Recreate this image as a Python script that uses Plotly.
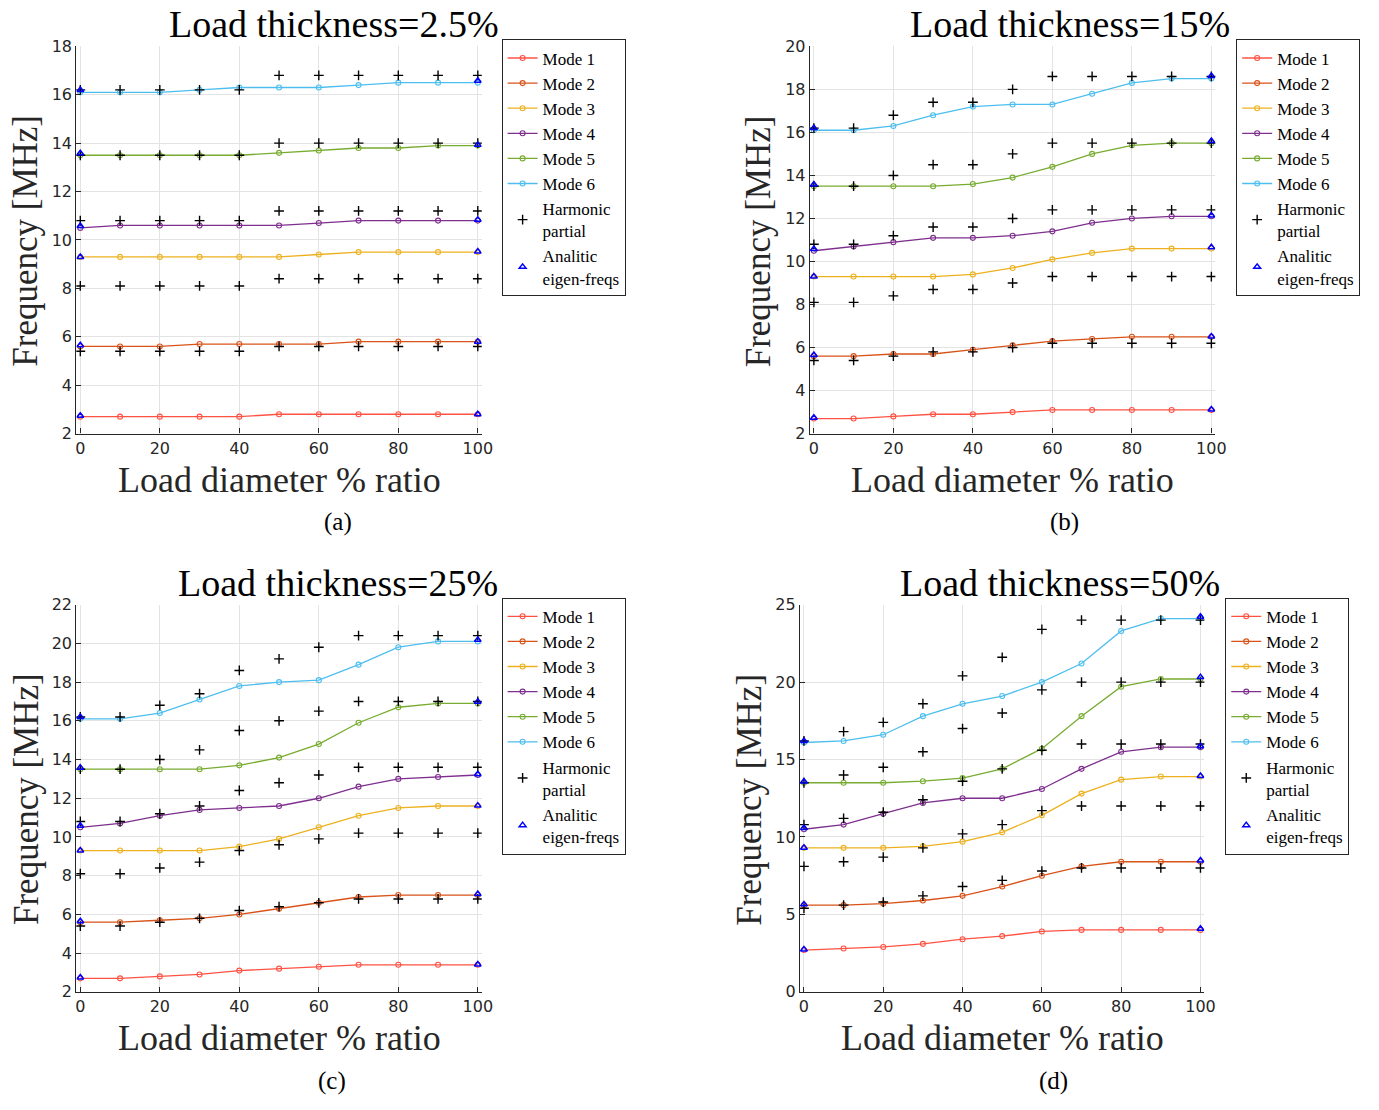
import plotly.graph_objects as go

# ---------------------------------------------------------------- data
diam = [0, 10, 20, 30, 40, 50, 60, 70, 80, 90, 100]
diam_ends = [0, 100]

mode_names = ["Mode 1", "Mode 2", "Mode 3", "Mode 4", "Mode 5", "Mode 6"]
mode_colors = ["#FF5243", "#D95319", "#EDB120", "#7E2F8E", "#77AC30", "#4DBEEE"]

# Load thickness = 2.5 %
modes_a = [
    [2.7, 2.7, 2.7, 2.7, 2.7, 2.8, 2.8, 2.8, 2.8, 2.8, 2.8],
    [5.6, 5.6, 5.6, 5.7, 5.7, 5.7, 5.7, 5.8, 5.8, 5.8, 5.8],
    [9.3, 9.3, 9.3, 9.3, 9.3, 9.3, 9.4, 9.5, 9.5, 9.5, 9.5],
    [10.5, 10.6, 10.6, 10.6, 10.6, 10.6, 10.7, 10.8, 10.8, 10.8, 10.8],
    [13.5, 13.5, 13.5, 13.5, 13.5, 13.6, 13.7, 13.8, 13.8, 13.9, 13.9],
    [16.1, 16.1, 16.1, 16.2, 16.3, 16.3, 16.3, 16.4, 16.5, 16.5, 16.5],
]
harm_a = [
    [5.4, 5.4, 5.4, 5.4, 5.4, 5.6, 5.6, 5.6, 5.6, 5.6, 5.6],
    [8.1, 8.1, 8.1, 8.1, 8.1, 8.4, 8.4, 8.4, 8.4, 8.4, 8.4],
    [10.8, 10.8, 10.8, 10.8, 10.8, 11.2, 11.2, 11.2, 11.2, 11.2, 11.2],
    [13.5, 13.5, 13.5, 13.5, 13.5, 14.0, 14.0, 14.0, 14.0, 14.0, 14.0],
    [16.2, 16.2, 16.2, 16.2, 16.2, 16.8, 16.8, 16.8, 16.8, 16.8, 16.8],
]
analytic_a = [
    [2.74, 5.65, 9.3, 10.58, 13.58, 16.2],
    [2.8, 5.8, 9.52, 10.84, 13.93, 16.58],
]

# Load thickness = 15 %
modes_b = [
    [2.7, 2.7, 2.8, 2.9, 2.9, 3.0, 3.1, 3.1, 3.1, 3.1, 3.1],
    [5.6, 5.6, 5.7, 5.7, 5.9, 6.1, 6.3, 6.4, 6.5, 6.5, 6.5],
    [9.3, 9.3, 9.3, 9.3, 9.4, 9.7, 10.1, 10.4, 10.6, 10.6, 10.6],
    [10.5, 10.7, 10.9, 11.1, 11.1, 11.2, 11.4, 11.8, 12.0, 12.1, 12.1],
    [13.5, 13.5, 13.5, 13.5, 13.6, 13.9, 14.4, 15.0, 15.4, 15.5, 15.5],
    [16.1, 16.1, 16.3, 16.8, 17.2, 17.3, 17.3, 17.8, 18.3, 18.5, 18.5],
]
harm_b = [
    [5.4, 5.4, 5.6, 5.8, 5.8, 6.0, 6.2, 6.2, 6.2, 6.2, 6.2],
    [8.1, 8.1, 8.4, 8.7, 8.7, 9.0, 9.3, 9.3, 9.3, 9.3, 9.3],
    [10.8, 10.8, 11.2, 11.6, 11.6, 12.0, 12.4, 12.4, 12.4, 12.4, 12.4],
    [13.5, 13.5, 14.0, 14.5, 14.5, 15.0, 15.5, 15.5, 15.5, 15.5, 15.5],
    [16.2, 16.2, 16.8, 17.4, 17.4, 18.0, 18.6, 18.6, 18.6, 18.6, 18.6],
]
analytic_b = [
    [2.74, 5.65, 9.3, 10.58, 13.58, 16.2],
    [3.12, 6.51, 10.66, 12.14, 15.6, 18.62],
]

# Load thickness = 25 %
modes_c = [
    [2.7, 2.7, 2.8, 2.9, 3.1, 3.2, 3.3, 3.4, 3.4, 3.4, 3.4],
    [5.6, 5.6, 5.7, 5.8, 6.0, 6.3, 6.6, 6.9, 7.0, 7.0, 7.0],
    [9.3, 9.3, 9.3, 9.3, 9.5, 9.9, 10.5, 11.1, 11.5, 11.6, 11.6],
    [10.5, 10.7, 11.1, 11.4, 11.5, 11.6, 12.0, 12.6, 13.0, 13.1, 13.2],
    [13.5, 13.5, 13.5, 13.5, 13.7, 14.1, 14.8, 15.9, 16.7, 16.9, 16.9],
    [16.1, 16.1, 16.4, 17.1, 17.8, 18.0, 18.1, 18.9, 19.8, 20.1, 20.1],
]
harm_c = [
    [5.4, 5.4, 5.6, 5.8, 6.2, 6.4, 6.6, 6.8, 6.8, 6.8, 6.8],
    [8.1, 8.1, 8.4, 8.7, 9.3, 9.6, 9.9, 10.2, 10.2, 10.2, 10.2],
    [10.8, 10.8, 11.2, 11.6, 12.4, 12.8, 13.2, 13.6, 13.6, 13.6, 13.6],
    [13.5, 13.5, 14.0, 14.5, 15.5, 16.0, 16.5, 17.0, 17.0, 17.0, 17.0],
    [16.2, 16.2, 16.8, 17.4, 18.6, 19.2, 19.8, 20.4, 20.4, 20.4, 20.4],
]
analytic_c = [
    [2.74, 5.65, 9.3, 10.58, 13.58, 16.2],
    [3.41, 7.05, 11.62, 13.24, 16.99, 20.18],
]

# Load thickness = 50 %
modes_d = [
    [2.7, 2.8, 2.9, 3.1, 3.4, 3.6, 3.9, 4.0, 4.0, 4.0, 4.0],
    [5.6, 5.6, 5.7, 5.9, 6.2, 6.8, 7.5, 8.1, 8.4, 8.4, 8.4],
    [9.3, 9.3, 9.3, 9.4, 9.7, 10.3, 11.4, 12.8, 13.7, 13.9, 13.9],
    [10.5, 10.8, 11.5, 12.2, 12.5, 12.5, 13.1, 14.4, 15.5, 15.8, 15.8],
    [13.5, 13.5, 13.5, 13.6, 13.8, 14.4, 15.7, 17.8, 19.7, 20.2, 20.2],
    [16.1, 16.2, 16.6, 17.8, 18.6, 19.1, 20.0, 21.2, 23.3, 24.1, 24.1],
]
harm_d = [
    [5.4, 5.6, 5.8, 6.2, 6.8, 7.2, 7.8, 8.0, 8.0, 8.0, 8.0],
    [8.1, 8.4, 8.7, 9.3, 10.2, 10.8, 11.7, 12.0, 12.0, 12.0, 12.0],
    [10.8, 11.2, 11.6, 12.4, 13.6, 14.4, 15.6, 16.0, 16.0, 16.0, 16.0],
    [13.5, 14.0, 14.5, 15.5, 17.0, 18.0, 19.5, 20.0, 20.0, 20.0, 20.0],
    [16.2, 16.8, 17.4, 18.6, 20.4, 21.6, 23.4, 24.0, 24.0, 24.0, 24.0],
]
analytic_d = [
    [2.74, 5.65, 9.3, 10.58, 13.58, 16.2],
    [4.08, 8.48, 13.94, 15.86, 20.32, 24.22],
]

titles = ["Load thickness=2.5%", "Load thickness=15%",
          "Load thickness=25%", "Load thickness=50%"]
captions = ["(a)", "(b)", "(c)", "(d)"]
y_ranges = [[2, 18], [2, 20], [2, 22], [0, 25]]
y_dticks = [2, 2, 2, 5]
x_ticks = [0, 20, 40, 60, 80, 100]

# ---------------------------------------------------------------- layout helpers
W, H = 1379, 1110
SERIF = "Liberation Serif"
SANS = "DejaVu Sans"
INK = "#262626"


def fx(px):
    return px / W


def fy(py):
    return 1 - py / H


# pixel boxes of the four axes: (left, right, top, bottom)
boxes = [(76, 485, 38, 432), (816, 1225, 38, 432),
         (76, 485, 606, 1000), (806, 1214, 606, 1000)]
legend_pos = [(505, 31), (1246, 31), (505, 599), (1235, 599)]
title_pos = [(336, 15), (1078, 15), (340, 584), (1068, 584)]
caption_pos = [(340, 522), (1073, 522), (334, 1091), (1062, 1091)]

panels = [
    (modes_a, harm_a, analytic_a),
    (modes_b, harm_b, analytic_b),
    (modes_c, harm_c, analytic_c),
    (modes_d, harm_d, analytic_d),
]

fig = go.Figure()
layout = dict(
    width=W, height=H,
    margin=dict(l=0, r=0, t=0, b=0),
    paper_bgcolor="white", plot_bgcolor="white",
    showlegend=True,
    annotations=[],
)

for i, (modes, harm, analytic) in enumerate(panels):
    sfx = "" if i == 0 else str(i + 1)
    xa, ya = "x" + sfx, "y" + sfx
    leg = "legend" + sfx

    for k in range(6):
        fig.add_trace(go.Scatter(
            x=diam, y=modes[k], name=mode_names[k], mode="lines+markers",
            xaxis=xa, yaxis=ya, legend=leg,
            line=dict(color=mode_colors[k], width=1.3),
            marker=dict(symbol="circle-open", size=5,
                        color=mode_colors[k], line=dict(width=1.1)),
        ))

    # harmonic partials, one series per partial order, shown once in the legend
    for j, row in enumerate(harm):
        fig.add_trace(go.Scatter(
            x=diam, y=row, name="Harmonic<br>partial", mode="markers",
            xaxis=xa, yaxis=ya, legend=leg,
            legendgroup="harm" + sfx, showlegend=(j == 0),
            marker=dict(symbol="cross-thin", size=7, color="black",
                        line=dict(width=1.4, color="black")),
        ))

    # analytic eigen-frequencies at both ends of the sweep
    ax_x = [diam_ends[0]] * 6 + [diam_ends[1]] * 6
    ax_y = analytic[0] + analytic[1]
    fig.add_trace(go.Scatter(
        x=ax_x, y=ax_y, name="Analitic<br>eigen-freqs", mode="markers",
        xaxis=xa, yaxis=ya, legend=leg,
        marker=dict(symbol="triangle-up-open", size=6, color="#0000FF",
                    line=dict(width=1.5, color="#0000FF")),
    ))

    l, r, t, b = boxes[i]
    layout["xaxis" + sfx] = dict(
        domain=[fx(l), fx(r)], range=[-1, 101], anchor=ya,
        tickvals=x_ticks, ticks="inside", ticklen=5, tickcolor=INK,
        showline=True, linecolor=INK, linewidth=1.3, mirror=False,
        showgrid=True, gridcolor="#E3E3E3", gridwidth=1, zeroline=False,
        tickfont=dict(family=SANS, size=16, color=INK),
    )
    layout["yaxis" + sfx] = dict(
        domain=[fy(b), fy(t)], range=y_ranges[i], anchor=xa,
        dtick=y_dticks[i], tick0=0, ticks="inside", ticklen=5, tickcolor=INK,
        showline=True, linecolor=INK, linewidth=1.3, mirror=False,
        showgrid=True, gridcolor="#E3E3E3", gridwidth=1, zeroline=False,
        tickfont=dict(family=SANS, size=16, color=INK),
    )

    lx, ly = legend_pos[i]
    layout[leg] = dict(
        x=fx(lx), y=fy(ly), xanchor="left", yanchor="top",
        bgcolor="white", bordercolor=INK, borderwidth=1,
        font=dict(family=SERIF, size=17, color="black"),
        itemwidth=30, tracegroupgap=0, valign="middle",
    )

    # title, axis labels and sub-figure caption
    tx, ty = title_pos[i]
    layout["annotations"].append(dict(
        text=titles[i], x=fx(tx), y=fy(ty), xref="paper", yref="paper",
        xanchor="center", yanchor="middle", showarrow=False,
        font=dict(family=SERIF, size=38, color="black")))
    layout["annotations"].append(dict(
        text="Load diameter % ratio", x=fx((l + r) / 2), y=fy(b + 25),
        xref="paper", yref="paper", xanchor="center", yanchor="top",
        showarrow=False, font=dict(family=SERIF, size=36, color=INK)))
    layout["annotations"].append(dict(
        text="Frequency [MHz]", x=fx(l - 51), y=fy((t + b) / 2 + 1),
        xref="paper", yref="paper", xanchor="center", yanchor="middle",
        textangle=-90, showarrow=False,
        font=dict(family=SERIF, size=35, color=INK)))
    cx, cy = caption_pos[i]
    layout["annotations"].append(dict(
        text=captions[i], x=fx(cx), y=fy(cy), xref="paper", yref="paper",
        xanchor="center", yanchor="middle", showarrow=False,
        font=dict(family=SERIF, size=25, color="black")))

fig.update_layout(**layout)
fig.write_html("out.html")
